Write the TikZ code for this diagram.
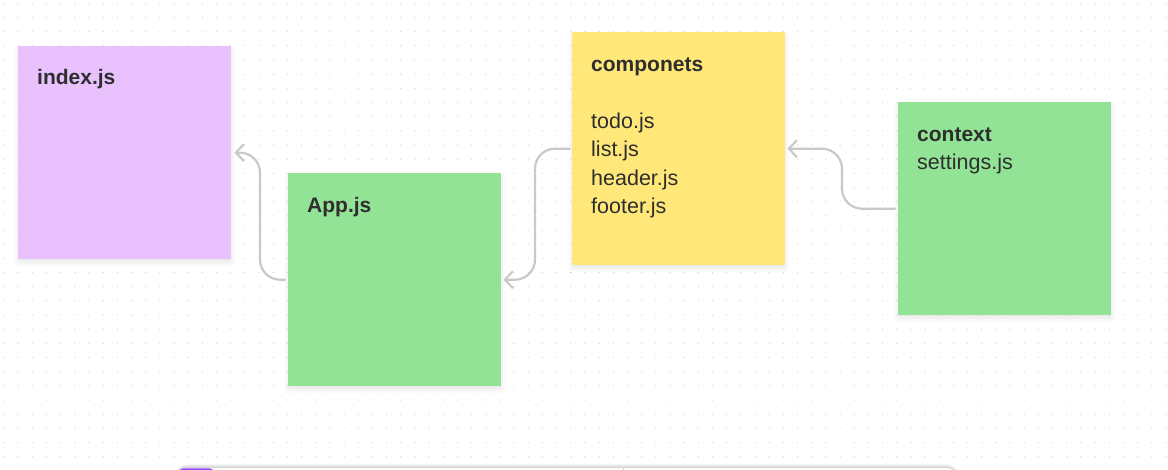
\documentclass[tikz,border=0pt]{standalone}
\usepackage{fontspec}
\setmainfont{Liberation Sans}
\usetikzlibrary{positioning,arrows.meta,shadows.blur}
\definecolor{notepurple}{HTML}{E8C1FD}
\definecolor{notegreen}{HTML}{93E396}
\definecolor{noteyellow}{HTML}{FFE779}
\definecolor{inkdark}{HTML}{2E2E2E}
\definecolor{linkgray}{HTML}{C9C9C9}
\definecolor{dotgray}{HTML}{DCDCDC}
\definecolor{barpurple}{HTML}{9747FF}
\tikzset{
    sticky/.style={draw=none,minimum width=213pt,minimum height=213pt,anchor=north west,inner sep=0pt,
        blur shadow={shadow xshift=0pt,shadow yshift=-3pt,shadow blur radius=5pt,shadow blur steps=8,shadow opacity=10}},
    title/.style={anchor=base west,inner sep=0pt,text=inkdark,font=\fontsize{21}{25}\selectfont\bfseries},
    item/.style={anchor=base west,inner sep=0pt,text=inkdark,font=\fontsize{21.5}{25}\selectfont},
    link/.style={linkgray,line width=2.2pt,rounded corners=20pt,line cap=round,
        -{Straight Barb[length=8pt,width=17pt,line width=2.2pt]}},
}

\begin{document}
\begin{tikzpicture}[x=1pt,y=-1pt]
            \useasboundingbox (0,0) rectangle (1168,470);
            \clip (0,0) rectangle (1168,470);
            % dotted canvas
            \foreach \i in {0,...,82}
                \foreach \j in {0,...,32}
                    \fill[dotgray] (4+14.17*\i,3.3+14.17*\j) circle[radius=0.75];
            % notes
            \node[sticky,fill=notepurple] (index) at (18,46) {};
            \node[sticky,fill=notegreen] (app) at (288,173) {};
            \node[sticky,fill=noteyellow,minimum height=233pt] (comp) at (572,32) {};
            \node[sticky,fill=notegreen] (ctx) at (898,102) {};
            \node[title] (indextitle) at ([xshift=19pt,yshift=-39pt]index.north west) {index.js};
            \node[title] (apptitle) at ([xshift=19pt,yshift=-40pt]app.north west) {App.js};
            \node[title] (comptitle) at ([xshift=19pt,yshift=-40pt]comp.north west) {componets};
            \foreach \f [count=\i] in {todo.js,list.js,header.js,footer.js}
                \node[item] (comp\i) at ([xshift=19pt,yshift={-40pt-28.3pt*(\i+1)}]comp.north west) {\f};
            \node[title] (ctxtitle) at ([xshift=19pt,yshift=-40pt]ctx.north west) {context};
            \node[item] (ctx1) at ([xshift=19pt,yshift=-68pt]ctx.north west) {settings.js};
            % connectors
            \draw[link,shorten <=3pt,shorten >=3pt] (app.west) -- ++(-28,0) |- (index.east);
            \draw[link,shorten <=2pt,shorten >=2pt] (comp.west) -- ++(-37,0) |- (app.east);
            \draw[link,shorten <=3pt,shorten >=2pt] (ctx.west) -- ++(-56,0) |- (comp.east);
            % toolbar at the bottom edge
            \fill[white,draw=gray!35,line width=0.8pt,rounded corners=10pt,
                blur shadow={shadow xshift=0pt,shadow yshift=2pt,shadow blur steps=6,shadow opacity=15}]
                (177,467.5) rectangle (957,500);
            \fill[barpurple,rounded corners=6pt] (178,468.3) rectangle (215,500);
            \draw[gray!35,line width=0.8pt] (623,468) -- (623,470);
        \end{tikzpicture}
\end{document}
